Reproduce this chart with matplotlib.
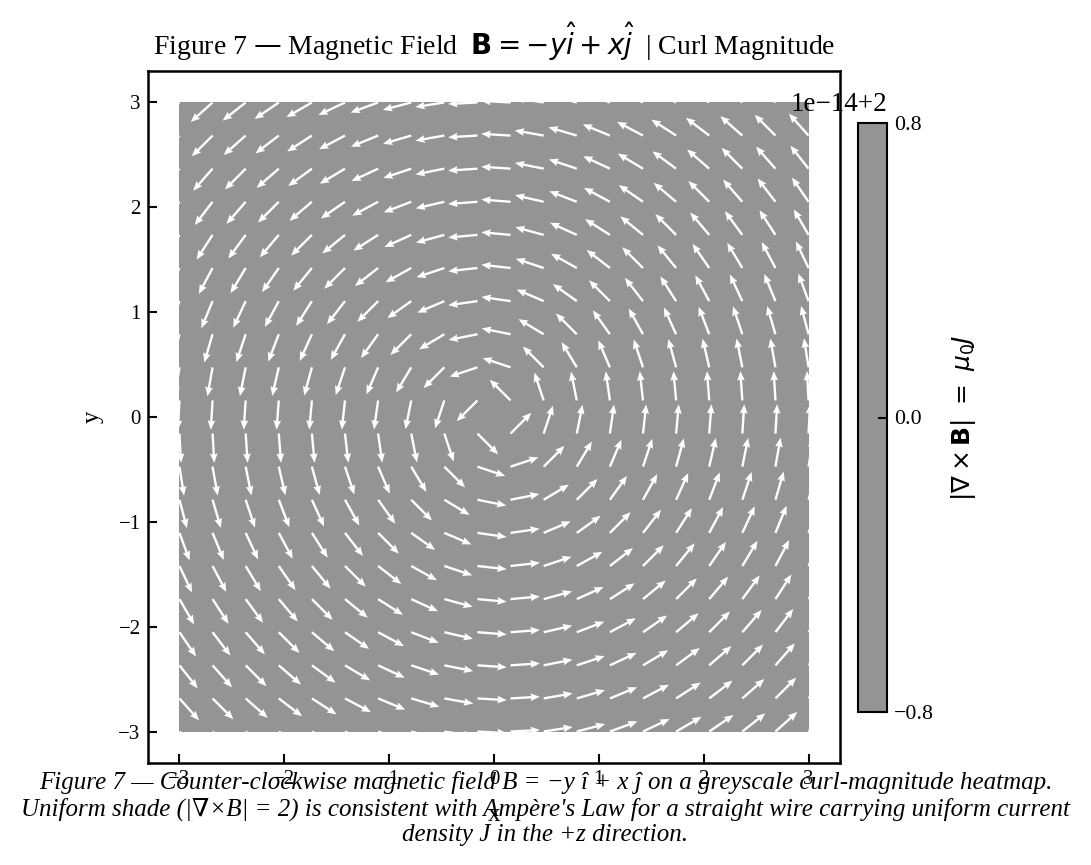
import numpy as np
import matplotlib
matplotlib.use("Agg")
import matplotlib.pyplot as plt
from matplotlib.colors import ListedColormap, Normalize
from matplotlib.cm import ScalarMappable

# ---------------------------------------------------------------------------
# Data
# ---------------------------------------------------------------------------
GRID_LIM = 3.0          # field sampled on [-3, 3] x [-3, 3]
GRID_N = 20             # 20 x 20 arrows
CURL_VALUE = 2.0        # |curl B| for B = -y i + x j (uniform)
AXIS_TICKS = [-3, -2, -1, 0, 1, 2, 3]
# colour bar shows only float noise around 2: ticks in units of 1e-14, offset +2
CBAR_TICKS = [-0.8, 0.0, 0.8]
CBAR_OFFSET = "1e\u221214+2"

TITLE = r"Figure 7 — Magnetic Field  $\mathbf{B} = -y\hat{i} + x\hat{j}$  | Curl Magnitude"
CBAR_LABEL = r"$|\nabla \times \mathbf{B}|\ =\ \mu_0 J$"
CAPTION = ("Figure 7 — Counter-clockwise magnetic field B = −y î + x ĵ on a greyscale "
           "curl-magnitude heatmap.\n"
           "Uniform shade (|∇×B| = 2) is consistent with Ampère's Law for a straight "
           "wire carrying uniform current\n"
           "density J in the +z direction.")

GREY = "#949494"

# ---------------------------------------------------------------------------
# Field
# ---------------------------------------------------------------------------
coords = np.linspace(-GRID_LIM, GRID_LIM, GRID_N)
X, Y = np.meshgrid(coords, coords)
Bx, By = -Y, X
mag = np.hypot(Bx, By)
U, V = Bx / mag, By / mag
curl = np.full_like(X, CURL_VALUE)

# ---------------------------------------------------------------------------
# Plot
# ---------------------------------------------------------------------------
plt.rcParams["font.family"] = ["Liberation Serif", "DejaVu Serif"]
plt.rcParams["font.size"] = 12
plt.rcParams["mathtext.fontset"] = "dejavusans"

fig = plt.figure(figsize=(1091 / 150, 865 / 150), dpi=150)
ax = fig.add_axes([148 / 1091, 1 - 763 / 865, 692 / 1091, 692 / 865])
cax = fig.add_axes([858 / 1091, 1 - 712 / 865, 29 / 1091, 589 / 865])

cmap = ListedColormap([GREY])
im = ax.imshow(curl, extent=[-GRID_LIM, GRID_LIM, -GRID_LIM, GRID_LIM],
               origin="lower", cmap=cmap)
ax.quiver(X, Y, U, V, color="white", pivot="tail",
          angles="xy", scale_units="xy", scale=1 / 0.28,
          width=0.0034, headwidth=3.3, headlength=4.0, headaxislength=3.6)

ax.set_xlim(-3.3, 3.3)
ax.set_ylim(-3.3, 3.3)
ax.set_xticks(AXIS_TICKS)
ax.set_yticks(AXIS_TICKS)
ax.tick_params(direction="in", length=4.5, width=1.0, labelsize=10)
for sp in ax.spines.values():
    sp.set_linewidth(1.2)
ax.set_xlabel("x", fontsize=12, labelpad=7)
ax.set_ylabel("y", fontsize=12, labelpad=7)
ax.set_title(TITLE, fontsize=13.3, pad=7.5)

sm = ScalarMappable(norm=Normalize(CBAR_TICKS[0], CBAR_TICKS[-1]), cmap=cmap)
cb = fig.colorbar(sm, cax=cax, ticks=CBAR_TICKS)
cb.ax.tick_params(direction="in", length=4.5, width=1.0, labelsize=10.5)
cb.outline.set_linewidth(1.0)
cb.set_label(CBAR_LABEL, fontsize=12, labelpad=7)
cax.text(1.0, 1.0 + 6 / 589, CBAR_OFFSET, transform=cax.transAxes,
         ha="right", va="bottom", fontsize=13)

fig.text(0.5, 0.022, CAPTION, ha="center", va="bottom", style="italic",
         fontsize=12, family=["Liberation Serif", "DejaVu Serif"])

fig.savefig("out.png", dpi=150)
